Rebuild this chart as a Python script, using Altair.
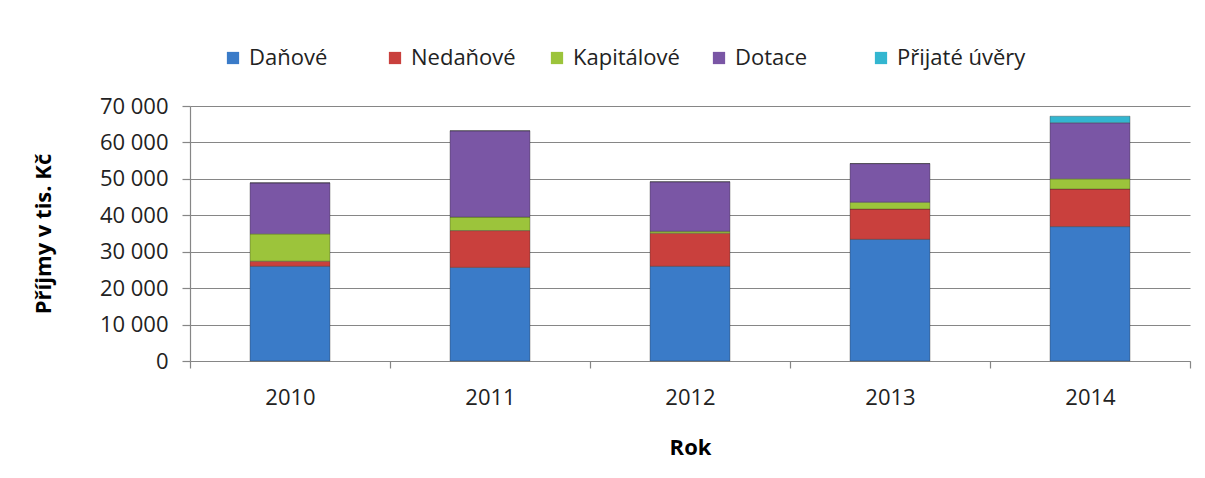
import altair as alt
import pandas as pd

years = ["2010", "2011", "2012", "2013", "2014"]
series = ["Daňové", "Nedaňové", "Kapitálové", "Dotace", "Přijaté úvěry"]
danove = [26000, 25700, 26000, 33400, 36900]
nedanove = [1400, 10100, 9100, 8300, 10300]
kapitalove = [7500, 3700, 500, 1900, 2800]
dotace = [14000, 23700, 13600, 10600, 15400]
prijate_uvery = [0, 0, 0, 0, 1800]
colors = ["#3A7BC8", "#C9403D", "#9CC43B", "#7A56A5", "#33B6D0"]
y_ticks = [0, 10000, 20000, 30000, 40000, 50000, 60000, 70000]

values = [danove, nedanove, kapitalove, dotace, prijate_uvery]
rows = []
for si, (name, vals) in enumerate(zip(series, values)):
    for yr, v in zip(years, vals):
        rows.append({"Rok": yr, "Druh": name, "Hodnota": v, "poradi": si})
df = pd.DataFrame(rows)

FONT = "Open Sans"

chart = alt.Chart(df).mark_bar(
    width=alt.RelativeBandSize(0.4),
    stroke="#2a2a2a", strokeOpacity=0.35, strokeWidth=1
).encode(
    x=alt.X("Rok:N", sort=years,
            scale=alt.Scale(paddingInner=0, paddingOuter=0),
            axis=alt.Axis(title="Rok", labelAngle=0, tickBand="extent",
                          tickSize=7, labelPadding=19, titlePadding=29,
                          domainColor="#868686", tickColor="#868686")),
    y=alt.Y("Hodnota:Q", stack="zero",
            scale=alt.Scale(domain=[0, 70000], nice=False),
            axis=alt.Axis(title="Příjmy v tis. Kč", values=y_ticks,
                          labelExpr="replace(format(datum.value, ','), ',', ' ')",
                          tickSize=8, labelPadding=14, titlePadding=44,
                          domainColor="#868686", tickColor="#868686",
                          gridColor="#868686", gridWidth=1.2)),
    color=alt.Color("Druh:N", sort=series,
                    scale=alt.Scale(domain=series, range=colors),
                    legend=alt.Legend(title=None, orient="none", direction="horizontal",
                                      columns=5, gridAlign="all", columnPadding=6,
                                      legendX=32, legendY=-59,
                                      symbolType="square", symbolSize=150,
                                      symbolStrokeWidth=0, symbolOffset=0,
                                      labelOffset=5)),
    order=alt.Order("poradi:Q", sort="ascending"),
).properties(
    width=1000, height=255,
    autosize=alt.AutoSizeParams(type="none"),
    padding={"left": 182, "top": 98, "right": 7, "bottom": 100},
).configure_view(
    stroke=None
).configure_axis(
    labelFont=FONT, titleFont=FONT, labelFontSize=22, titleFontSize=22,
    labelColor="#222222", titleColor="#000000", titleFontWeight="bold",
    domainWidth=1.2, tickWidth=1.2,
).configure_axisX(grid=False).configure_legend(
    labelFont=FONT, labelFontSize=22, labelColor="#222222",
)

chart.save("out.html", embed_options={"renderer": "svg", "actions": False})
